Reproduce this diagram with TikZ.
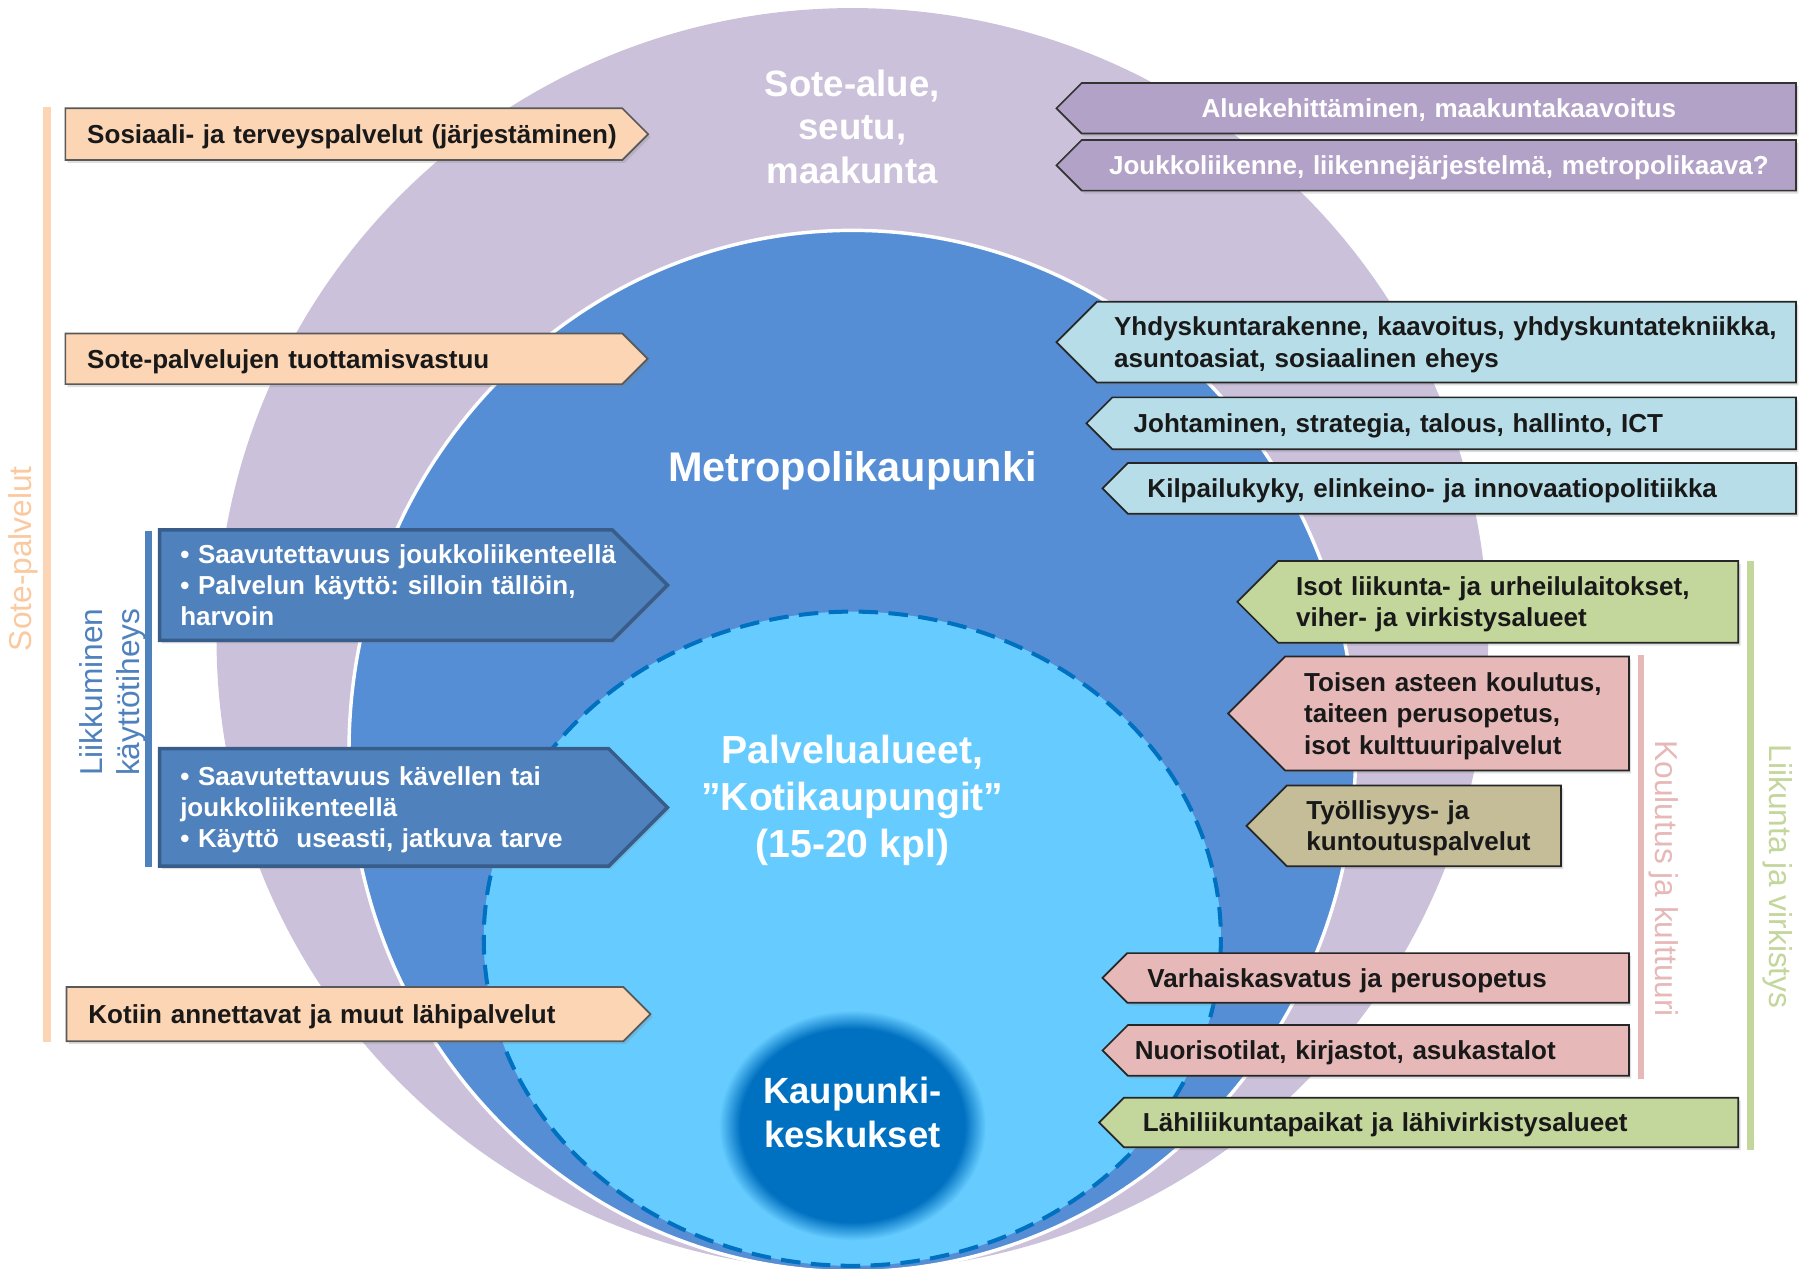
\documentclass[tikz,border=0pt]{standalone}
\usepackage{fontspec}
\setmainfont{Liberation Sans}
\usetikzlibrary{shapes.symbols,shapes.geometric,shadows}
\frenchspacing

\definecolor{lila}{HTML}{CCC1DA}
\definecolor{metro}{HTML}{558ED5}
\definecolor{koti}{HTML}{66CCFF}
\definecolor{keski}{HTML}{0070C0}
\definecolor{persikka}{HTML}{FCD5B5}
\definecolor{persikkateksti}{HTML}{FAC9A0}
\definecolor{tumma}{HTML}{4F81BD}
\definecolor{tummareuna}{HTML}{385D8A}
\definecolor{violetti}{HTML}{B3A2C7}
\definecolor{vaalea}{HTML}{B7DEE8}
\definecolor{vihrea}{HTML}{C3D69B}
\definecolor{pinkki}{HTML}{E6B9B8}
\definecolor{ruskea}{HTML}{C4BD97}

\pgfdeclareradialshading{keskushade}{\pgfpoint{0bp}{0bp}}{color(0bp)=(keski); color(21bp)=(keski); color(25bp)=(koti); color(50bp)=(koti)}

\tikzset{
  box/.style={signal, signal from=nowhere, signal pointer angle=90, inner ysep=0pt,
    line width=1.5pt, draw=black!85, text=black!90, align=left, text depth=0pt,
    font=\fontsize{22.6}{27}\selectfont\bfseries,
    drop shadow={shadow xshift=2pt, shadow yshift=-2.5pt, opacity=.25}},
  two/.style={text depth=27pt},
  three/.style={text depth=54pt},
  inbox/.style={box, signal to=west, anchor=east},
  outbox/.style={box, signal to=east, anchor=west},
  peachbox/.style={fill=persikka, draw=black!65},
  darkbox/.style={fill=tumma, draw=tummareuna, line width=3pt, text=white},
  violbox/.style={fill=violetti, draw=black!80, text=white, align=center},
  title/.style={text=white, align=center},
  side/.style={font=\fontsize{27.5}{32}\selectfont}
}

\begin{document}
\begin{tikzpicture}[x=1pt, y=-1pt]
\useasboundingbox (0,0) rectangle (1568,1101);
\fill[white] (0,0) rectangle (1568,1101);

% circles
\fill[lila] (740,555) ellipse (552 and 548);
\filldraw[fill=metro, draw=white, line width=3pt] (740,652) ellipse (437 and 452);
\filldraw[fill=koti, draw=keski, line width=3.5pt, dash pattern=on 17pt off 9pt] (740,815) ellipse (320 and 284);
\shade[shading=keskushade] (740,977) ellipse (116 and 100);

% titles
\node (seutu) [title, font=\fontsize{31.8}{38}\selectfont\bfseries] at (740,110) {Sote-alue,\\seutu,\\maakunta};
\node (metro) [title, font=\fontsize{36}{43}\selectfont\bfseries] at (740,409) {Metropolikaupunki};
\node (palvelu) [title, font=\fontsize{34}{41}\selectfont\bfseries] at (740,695) {Palvelualueet,\\”Kotikaupungit”\\(15-20 kpl)};
\node (keskus) [title, font=\fontsize{31.7}{38}\selectfont\bfseries] at (740,966) {Kaupunki-\\keskukset};

% side labels
\draw[persikka, line width=7pt] (41,93) -- (41,905);
\draw[tumma, line width=6pt] (129,461) -- (129,753);
\draw[pinkki, line width=5pt] (1425,569) -- (1425,937);
\draw[vihrea, line width=6pt] (1520,487) -- (1520,998);
\node (sote) [side, text=persikkateksti, rotate=90] at (20,485) {Sote-palvelut};
\node (liikk) [side, text=tumma, rotate=90, align=left] at (98,601) {Liikkuminen\\käyttötiheys};
\node (koul) [side, text=pinkki, rotate=-90] at (1444,763) {Koulutus ja kulttuuri};
\node (virk) [side, text=vihrea, rotate=-90] at (1543,761) {Liikunta ja virkistys};

% left boxes
\node (sos) [outbox, peachbox, text width=445.5, inner xsep=19, minimum height=45] at (56,116.5) {\mbox{Sosiaali- ja terveyspalvelut (järjestäminen)}};
\node (tuot) [outbox, peachbox, text width=445.5, inner xsep=19, minimum height=44] at (56,311.5) {Sote-palvelujen tuottamisvastuu};
\node (kotiin) [outbox, peachbox, text width=445.5, inner xsep=19, minimum height=47] at (57,880.5) {\mbox{Kotiin annettavat ja muut lähipalvelut}};
\node (harv) [outbox, darkbox, three, text width=357, inner xsep=18, minimum height=96] at (137,508) {\mbox{• Saavutettavuus joukkoliikenteellä}\\• Palvelun käyttö: silloin tällöin,\\harvoin};
\node (usein) [outbox, darkbox, three, text width=354, inner xsep=18, minimum height=102] at (137,701) {• Saavutettavuus kävellen tai\\joukkoliikenteellä\\• Käyttö~~useasti, jatkuva tarve};

% right boxes
\node (alue) [inbox, violbox, text width=600, inner xsep=10, minimum height=44] at (1560,94) {Aluekehittäminen, maakuntakaavoitus};
\node (jouk) [inbox, violbox, text width=600, inner xsep=10, minimum height=44] at (1560,143.5) {Joukkoliikenne, liikennejärjestelmä, metropolikaava?};
\node (yhdys) [inbox, two, fill=vaalea, text width=577, inner xsep=15, minimum height=70] at (1560,297) {\mbox{Yhdyskuntarakenne, kaavoitus, yhdyskuntatekniikka,}\\asuntoasiat, sosiaalinen eheys};
\node (johto) [inbox, fill=vaalea, text width=556.5, inner xsep=18.5, minimum height=45] at (1560,367.5) {Johtaminen, strategia, talous, hallinto, ICT};
\node (kilpa) [inbox, fill=vaalea, text width=546, inner xsep=17, minimum height=44] at (1560,424) {Kilpailukyky, elinkeino- ja innovaatiopolitiikka};
\node (isot) [inbox, two, fill=vihrea, text width=368.5, inner xsep=15.5, minimum height=71] at (1510,522.5) {Isot liikunta- ja urheilulaitokset,\\viher- ja virkistysalueet};
\node (toinen) [inbox, three, fill=pinkki, text width=265.5, inner xsep=16.5, minimum height=99] at (1415,619.5) {\mbox{Toisen asteen koulutus,}\\taiteen perusopetus,\\isot kulttuuripalvelut};
\node (tyo) [inbox, two, fill=ruskea, text width=204, inner xsep=17, minimum height=70] at (1356,717) {Työllisyys- ja\\kuntoutuspalvelut};
\node (varh) [inbox, fill=pinkki, text width=400.5, inner xsep=17.5, minimum height=43] at (1415,849) {Varhaiskasvatus ja perusopetus};
\node (nuor) [inbox, fill=pinkki, text width=423, inner xsep=6, minimum height=44] at (1415,912) {Nuorisotilat, kirjastot, asukastalot};
\node (lahi) [inbox, fill=vihrea, text width=500.5, inner xsep=16.5, minimum height=43] at (1510,974.5) {Lähiliikuntapaikat ja lähivirkistysalueet};
\end{tikzpicture}
\end{document}
